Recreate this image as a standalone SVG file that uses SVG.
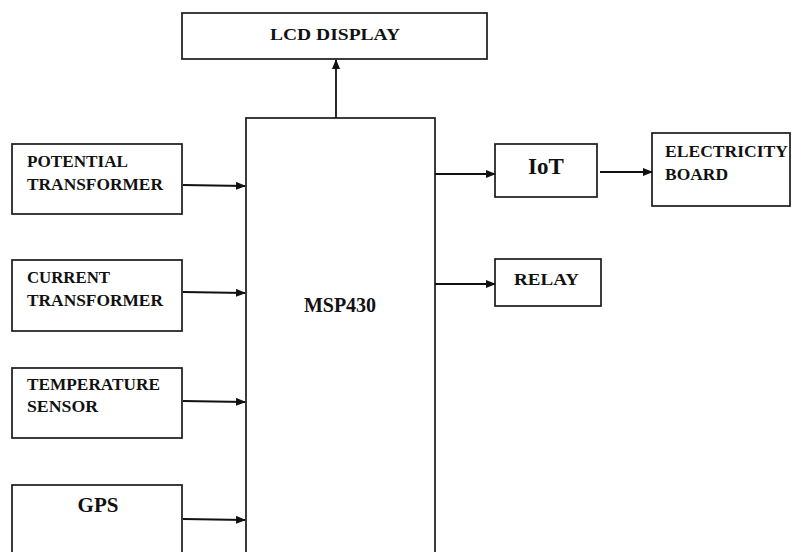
<svg xmlns="http://www.w3.org/2000/svg" width="793" height="552" viewBox="0 0 793 552">
<style>
.box{fill:#fff;stroke:#1a1a1a;stroke-width:1.7}
.t{font-family:"Liberation Serif","Times New Roman",serif;font-weight:bold;fill:#111}
.s{font-size:16.5px}
.c{stroke:#111;stroke-width:1.8;fill:none}
</style>
<defs>
<marker id="ah" markerWidth="10" markerHeight="8" refX="9" refY="4" orient="auto" markerUnits="userSpaceOnUse">
<path d="M0,0 L10,4 L0,8 Z" fill="#111"/>
</marker>
</defs>
<rect width="793" height="552" fill="#fff"/>
<g id="lcd">
<rect class="box" x="182" y="13" width="305" height="46"/>
<text class="t s" x="270" y="40" textLength="130" lengthAdjust="spacingAndGlyphs">LCD DISPLAY</text>
</g>
<g id="msp430">
<rect class="box" x="246" y="118" width="189" height="460"/>
<text class="t" x="340" y="312" font-size="20" text-anchor="middle">MSP430</text>
</g>
<g id="pt">
<rect class="box" x="12" y="144" width="170" height="70"/>
<text class="t s" x="27" y="167" textLength="101" lengthAdjust="spacingAndGlyphs">POTENTIAL</text>
<text class="t s" x="27" y="190" textLength="136" lengthAdjust="spacingAndGlyphs">TRANSFORMER</text>
</g>
<g id="ct">
<rect class="box" x="12" y="260" width="170" height="71"/>
<text class="t s" x="27" y="283" textLength="83" lengthAdjust="spacingAndGlyphs">CURRENT</text>
<text class="t s" x="27" y="306" textLength="136" lengthAdjust="spacingAndGlyphs">TRANSFORMER</text>
</g>
<g id="temp">
<rect class="box" x="12" y="368" width="170" height="70"/>
<text class="t s" x="27" y="390" textLength="133" lengthAdjust="spacingAndGlyphs">TEMPERATURE</text>
<text class="t s" x="27" y="412" textLength="71" lengthAdjust="spacingAndGlyphs">SENSOR</text>
</g>
<g id="gps">
<rect class="box" x="12" y="485" width="170" height="90"/>
<text class="t" x="98" y="512" font-size="21" text-anchor="middle">GPS</text>
</g>
<g id="iot">
<rect class="box" x="495" y="144" width="102" height="53"/>
<text class="t" x="546" y="174" font-size="23" text-anchor="middle">IoT</text>
</g>
<g id="eb">
<rect class="box" x="652" y="133" width="138" height="73"/>
<text class="t s" x="665" y="157" textLength="123" lengthAdjust="spacingAndGlyphs">ELECTRICITY</text>
<text class="t s" x="665" y="180" textLength="63" lengthAdjust="spacingAndGlyphs">BOARD</text>
</g>
<g id="relay">
<rect class="box" x="495" y="259" width="106" height="47"/>
<text class="t s" x="514" y="285" textLength="65" lengthAdjust="spacingAndGlyphs">RELAY</text>
</g>
<g id="connectors">
<line class="c" x1="336" y1="118" x2="336" y2="60" marker-end="url(#ah)"/>
<line class="c" x1="183" y1="185" x2="245" y2="186" marker-end="url(#ah)"/>
<line class="c" x1="183" y1="292" x2="245" y2="293" marker-end="url(#ah)"/>
<line class="c" x1="183" y1="401" x2="245" y2="402" marker-end="url(#ah)"/>
<line class="c" x1="183" y1="519" x2="245" y2="520" marker-end="url(#ah)"/>
<line class="c" x1="435" y1="174" x2="495" y2="174" marker-end="url(#ah)"/>
<line class="c" x1="600" y1="172" x2="652" y2="172" marker-end="url(#ah)"/>
<line class="c" x1="435" y1="284" x2="495" y2="284" marker-end="url(#ah)"/>
</g>
</svg>
